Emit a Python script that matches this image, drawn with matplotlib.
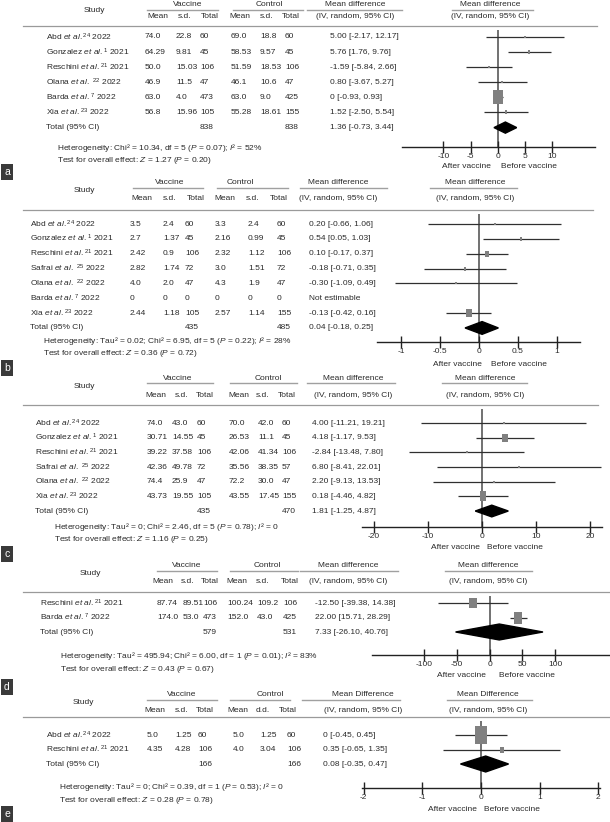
import numpy as np
import matplotlib.pyplot as plt

plt.rcParams['font.family'] = ['Liberation Sans', 'DejaVu Sans']
plt.rcParams['mathtext.fontset'] = 'custom'
plt.rcParams['mathtext.rm'] = 'Liberation Sans'
plt.rcParams['mathtext.it'] = 'Liberation Sans:italic'
plt.rcParams['mathtext.bf'] = 'Liberation Sans:bold'

FS = 6.0
TXT = '#2a2a2a'

# === Panel a ===
names_a = ["Abd", "Gonzalez", "Reschini", "Olana", "Barda", "Xia"]
refs_a = ["24", "1", "21", " 22", "7", "23"]
years_a = ["2022", "2021", "2021", "2022", "2022", "2022"]
vac_mean_a = ["74.0", "64.29", "50.0", "46.9", "63.0", "56.8"]
vac_sd_a = ["22.8", "9.81", "15.03", "11.5", "4.0", "15.96"]
vac_n_a = ["60", "45", "106", "47", "473", "105"]
ctl_mean_a = ["69.0", "58.53", "51.59", "46.1", "63.0", "55.28"]
ctl_sd_a = ["18.8", "9.57", "18.53", "10.6", "9.0", "18.61"]
ctl_n_a = ["60", "45", "106", "47", "425", "155"]
tot_a = ["838", "838"]
md_a = [5.00, 5.76, -1.59, 0.80, 0.0, 1.52]
lo_a = [-2.17, 1.76, -5.84, -3.67, -0.93, -2.50]
hi_a = [12.17, 9.76, 2.66, 5.27, 0.93, 5.54]
wt_a = [2, 4, 3, 3, 84, 4]
pool_a = [1.36, -0.73, 3.44]
het_a = "Heterogeneity: Chi² = 10.34, df = 5 ($\\mathit{P}$ = 0.07); $\\mathit{I}$² = 52%"
test_a = "Test for overall effect: $\\mathit{Z}$ = 1.27 ($\\mathit{P}$ = 0.20)"
ticks_a = [-10, -5, 0, 5, 10]
ticklab_a = ["-10", "-5", "0", "5", "10"]

# === Panel b ===
names_b = ["Abd", "Gonzalez", "Reschini", "Safrai", "Olana", "Barda", "Xia"]
refs_b = ["24", "1", "21", " 25", " 22", "7", "23"]
years_b = ["2022", "2021", "2021", "2022", "2022", "2022", "2022"]
vac_mean_b = ["3.5", "2.7", "2.42", "2.82", "4.0", "0", "2.44"]
vac_sd_b = ["2.4", "1.37", "0.9", "1.74", "2.0", "0", "1.18"]
vac_n_b = ["60", "45", "106", "72", "47", "0", "105"]
ctl_mean_b = ["3.3", "2.16", "2.32", "3.0", "4.3", "0", "2.57"]
ctl_sd_b = ["2.4", "0.99", "1.12", "1.51", "1.9", "0", "1.14"]
ctl_n_b = ["60", "45", "106", "72", "47", "0", "155"]
tot_b = ["435", "485"]
md_b = [0.20, 0.54, 0.10, -0.18, -0.30, np.nan, -0.13]
lo_b = [-0.66, 0.05, -0.17, -0.71, -1.09, np.nan, -0.42]
hi_b = [1.06, 1.03, 0.37, 0.35, 0.49, np.nan, 0.16]
wt_b = [6, 13, 35, 9, 6, 0, 41]
pool_b = [0.04, -0.18, 0.25]
het_b = "Heterogeneity: Tau² = 0.02; Chi² = 6.95, df = 5 ($\\mathit{P}$ = 0.22); $\\mathit{I}$² = 28%"
test_b = "Test for overall effect: $\\mathit{Z}$ = 0.36 ($\\mathit{P}$ = 0.72)"
ticks_b = [-1, -0.5, 0, 0.5, 1]
ticklab_b = ["-1", "-0.5", "0", "0.5", "1"]

# === Panel c ===
names_c = ["Abd", "Gonzalez", "Reschini", "Safrai", "Olana", "Xia"]
refs_c = ["24", "1", "21", " 25", " 22", "23"]
years_c = ["2022", "2021", "2021", "2022", "2022", "2022"]
vac_mean_c = ["74.0", "30.71", "39.22", "42.36", "74.4", "43.73"]
vac_sd_c = ["43.0", "14.55", "37.58", "49.78", "25.9", "19.55"]
vac_n_c = ["60", "45", "106", "72", "47", "105"]
ctl_mean_c = ["70.0", "26.53", "42.06", "35.56", "72.2", "43.55"]
ctl_sd_c = ["42.0", "11.1", "41.34", "38.35", "30.0", "17.45"]
ctl_n_c = ["60", "45", "106", "57", "47", "155"]
tot_c = ["435", "470"]
md_c = [4.00, 4.18, -2.84, 6.80, 2.20, 0.18]
lo_c = [-11.21, -1.17, -13.48, -8.41, -9.13, -4.46]
hi_c = [19.21, 9.53, 7.80, 22.01, 13.53, 4.82]
wt_c = [3, 30, 5, 3, 4, 55]
pool_c = [1.81, -1.25, 4.87]
het_c = "Heterogeneity: Tau² = 0; Chi² = 2.46, df = 5 ($\\mathit{P}$ = 0.78); $\\mathit{I}$² = 0"
test_c = "Test for overall effect: $\\mathit{Z}$ = 1.16 ($\\mathit{P}$ = 0.25)"
ticks_c = [-20, -10, 0, 10, 20]
ticklab_c = ["-20", "-10", "0", "10", "20"]

# === Panel d ===
names_d = ["Reschini", "Barda"]
refs_d = ["21", "7"]
years_d = ["2021", "2022"]
vac_mean_d = ["87.74", "174.0"]
vac_sd_d = ["89.51", "53.0"]
vac_n_d = ["106", "473"]
ctl_mean_d = ["100.24", "152.0"]
ctl_sd_d = ["109.2", "43.0"]
ctl_n_d = ["106", "425"]
tot_d = ["579", "531"]
md_d = [-12.50, 22.00]
lo_d = [-39.38, 15.71]
hi_d = [14.38, 28.29]
wt_d = [45, 55]
pool_d = [7.33, -26.10, 40.76]
het_d = "Heterogeneity: Tau² = 495.94; Chi² = 6.00, df = 1 ($\\mathit{P}$ = 0.01); $\\mathit{I}$² = 83%"
test_d = "Test for overall effect: $\\mathit{Z}$ = 0.43 ($\\mathit{P}$ = 0.67)"
# the published axis labels are twice the plotted scale
ticks_d = [-50, -25, 0, 25, 50]
ticklab_d = ["-100", "-50", "0", "50", "100"]

# === Panel e ===
names_e = ["Abd", "Reschini"]
refs_e = ["24", "21"]
years_e = ["2022", "2021"]
vac_mean_e = ["5.0", "4.35"]
vac_sd_e = ["1.25", "4.28"]
vac_n_e = ["60", "106"]
ctl_mean_e = ["5.0", "4.0"]
ctl_sd_e = ["1.25", "3.04"]
ctl_n_e = ["60", "106"]
tot_e = ["166", "166"]
md_e = [0.0, 0.35]
lo_e = [-0.45, -0.65]
hi_e = [0.45, 1.35]
wt_e = [90, 10]
pool_e = [0.08, -0.35, 0.47]
het_e = "Heterogeneity: Tau² = 0; Chi² = 0.39, df = 1 ($\\mathit{P}$ = 0.53); $\\mathit{I}$² = 0"
test_e = "Test for overall effect: $\\mathit{Z}$ = 0.28 ($\\mathit{P}$ = 0.78)"
ticks_e = [-2, -1, 0, 1, 2]
ticklab_e = ["-2", "-1", "0", "1", "2"]

panels = [
    dict(tag="a", names=names_a, refs=refs_a, years=years_a,
         cells=[vac_mean_a, vac_sd_a, vac_n_a, ctl_mean_a, ctl_sd_a, ctl_n_a], tot=tot_a,
         md=md_a, lo=lo_a, hi=hi_a, wt=wt_a, pool=pool_a, het=het_a, test=test_a,
         ticks=ticks_a, ticklab=ticklab_a, col4="s.d.", mdhead="Mean difference",
         hdr1=5, hdr2=17, rule=26, row0=37, dy=15.1, axis=147, after=166, het_y=148, test_y=160, box=172,
         name_x=46, cols=[145, 176, 200, 231, 260, 285], col_hdr=[158, 185, 210, 240, 267, 291],
         vac=(188, 147, 218), ctl=(269, 233, 303), study_x=94, het_x=57, rule_x=(23, 597),
         md1=(355, 307, 402), md2=(490, 452, 533), md_x=330, ax_x=(402, 595), xlim=(-17.6, 17.8),
         after_x=466, before_x=529, dh=0.37, wk=1.2),
    dict(tag="b", names=names_b, refs=refs_b, years=years_b,
         cells=[vac_mean_b, vac_sd_b, vac_n_b, ctl_mean_b, ctl_sd_b, ctl_n_b], tot=tot_b,
         md=md_b, lo=lo_b, hi=hi_b, wt=wt_b, pool=pool_b, het=het_b, test=test_b,
         ticks=ticks_b, ticklab=ticklab_b, col4="s.d.", mdhead="Mean difference",
         hdr1=183, hdr2=198, rule=210, row0=224, dy=14.85, axis=342, after=364, het_y=341, test_y=353, box=368,
         name_x=30, cols=[130, 163, 185, 215, 248, 277], col_hdr=[142, 170, 196, 225, 253, 279],
         vac=(170, 133, 203), ctl=(240, 217, 288), study_x=84, het_x=43, rule_x=(23, 593),
         md1=(338, 300, 387), md2=(475, 430, 517), md_x=309, ax_x=(377, 580), xlim=(-1.316, 1.303),
         after_x=457, before_x=519, dh=0.43, wk=0.85),
    dict(tag="c", names=names_c, refs=refs_c, years=years_c,
         cells=[vac_mean_c, vac_sd_c, vac_n_c, ctl_mean_c, ctl_sd_c, ctl_n_c], tot=tot_c,
         md=md_c, lo=lo_c, hi=hi_c, wt=wt_c, pool=pool_c, het=het_c, test=test_c,
         ticks=ticks_c, ticklab=ticklab_c, col4="s.d.", mdhead="Mean difference",
         hdr1=378, hdr2=395, rule=405, row0=423, dy=14.67, axis=527, after=547, het_y=527, test_y=539, box=554,
         name_x=35, cols=[147, 172, 197, 229, 258, 282], col_hdr=[156, 182, 205, 239, 263, 287],
         vac=(178, 147, 213), ctl=(268, 230, 297), study_x=84, het_x=54, rule_x=(23, 598),
         md1=(353, 307, 395), md2=(485, 442, 527), md_x=312, ax_x=(362, 602), xlim=(-22.2, 22.2),
         after_x=455, before_x=515, dh=0.4, wk=0.95),
    dict(tag="d", names=names_d, refs=refs_d, years=years_d,
         cells=[vac_mean_d, vac_sd_d, vac_n_d, ctl_mean_d, ctl_sd_d, ctl_n_d], tot=tot_d,
         md=md_d, lo=lo_d, hi=hi_d, wt=wt_d, pool=pool_d, het=het_d, test=test_d,
         ticks=ticks_d, ticklab=ticklab_d, col4="s.d.", mdhead="Mean difference",
         hdr1=565, hdr2=581, rule=592, row0=603, dy=14.5, axis=655, after=675, het_y=656, test_y=669, box=687,
         name_x=40, cols=[157, 183, 203, 227, 257, 283], col_hdr=[163, 188, 210, 237, 263, 290],
         vac=(187, 157, 217), ctl=(267, 230, 298), study_x=90, het_x=60, rule_x=(23, 610),
         md1=(348, 300, 398), md2=(488, 445, 532), md_x=315, ax_x=(372, 610), xlim=(-90, 92),
         after_x=461, before_x=527, dh=0.55, wk=1.2),
    dict(tag="e", names=names_e, refs=refs_e, years=years_e,
         cells=[vac_mean_e, vac_sd_e, vac_n_e, ctl_mean_e, ctl_sd_e, ctl_n_e], tot=tot_e,
         md=md_e, lo=lo_e, hi=hi_e, wt=wt_e, pool=pool_e, het=het_e, test=test_e,
         ticks=ticks_e, ticklab=ticklab_e, col4="d.d.", mdhead="Mean Difference",
         hdr1=694, hdr2=710, rule=717, row0=735, dy=14.5, axis=788, after=809, het_y=787, test_y=800, box=814,
         name_x=46, cols=[147, 175, 198, 233, 260, 287], col_hdr=[155, 182, 205, 238, 263, 288],
         vac=(182, 147, 217), ctl=(270, 230, 290), study_x=83, het_x=59, rule_x=(23, 610),
         md1=(363, 302, 400), md2=(488, 447, 532), md_x=323, ax_x=(362, 600), xlim=(-2.03, 2.03),
         after_x=452, before_x=512, dh=0.55, wk=1.4),
]

W, H = 610, 822
fig = plt.figure(figsize=(W / 100, H / 100), dpi=100)
ax0 = fig.add_axes([0, 0, 1, 1])
ax0.set_xlim(0, W)
ax0.set_ylim(H, 0)
ax0.axis('off')

rect = [(-0.36, -0.5), (0.36, -0.5), (0.36, 0.5), (-0.36, 0.5), (-0.36, -0.5)]


def txt(x, y, s, ha='left', **kw):
    ax0.text(x, y, s, ha=ha, va='center', fontsize=FS, color=TXT, **kw)


def md_label(m, l, h):
    if np.isnan(m):
        return "Not estimable"
    ms = "0" if m == 0 else f"{m:.2f}"
    return f"{ms} [{l:.2f}, {h:.2f}]"


for P in panels:
    # header
    txt(P['study_x'], (P['hdr1'] + P['hdr2']) / 2, "Study", ha='center')
    for lab, (cx, x0, x1) in [("Vaccine", P['vac']), ("Control", P['ctl'])]:
        txt(cx, P['hdr1'], lab, ha='center')
        ax0.plot([x0, x1], [P['hdr1'] + 5.5] * 2, color='#a0a0a0', lw=1.0)
    for lab, cx in zip(["Mean", "s.d.", "Total", "Mean", P['col4'], "Total"], P['col_hdr']):
        txt(cx, P['hdr2'], lab, ha='center')
    for cx, x0, x1 in [P['md1'], P['md2']]:
        txt(cx, P['hdr1'], P['mdhead'], ha='center')
        ax0.plot([x0, x1], [P['hdr1'] + 5.5] * 2, color='#a0a0a0', lw=1.0)
        txt(cx, P['hdr2'], "(IV, random, 95% CI)", ha='center')
    ax0.plot(P['rule_x'], [P['rule']] * 2, color='#9a9a9a', lw=0.9)

    n = len(P['names'])
    for i in range(n):
        y = P['row0'] + i * P['dy']
        gap = "\\ " if P['refs'][i].startswith(" ") else ""
        name = (P['names'][i] + " $\\mathit{et\\ al.}" + gap + "^{\\mathrm{" + P['refs'][i].strip()
                + "}}$ " + P['years'][i])
        txt(P['name_x'], y, name)
        for col, cx in zip(P['cells'], P['cols']):
            txt(cx, y, col[i])
        txt(P['md_x'], y, md_label(P['md'][i], P['lo'][i], P['hi'][i]))
    yt = P['row0'] + n * P['dy']
    txt(P['name_x'], yt, "Total (95% CI)")
    txt(P['cols'][2], yt, P['tot'][0])
    txt(P['cols'][5], yt, P['tot'][1])
    txt(P['md_x'], yt, md_label(*P['pool']))

    txt(P['het_x'], P['het_y'], P['het'])
    txt(P['het_x'], P['test_y'], P['test'])
    txt(P['after_x'], P['after'], "After vaccine", ha='center')
    txt(P['before_x'], P['after'], "Before vaccine", ha='center')
    ax0.text(7, P['box'], P['tag'], ha='center', va='center', fontsize=7.5, color='white',
             bbox=dict(boxstyle='square,pad=0.3', fc='#3a3a3a', ec='none'))

    # forest plot
    x0, x1 = P['ax_x']
    top = P['rule'] + 4
    ax = fig.add_axes([x0 / W, 1 - P['axis'] / H, (x1 - x0) / W, (P['axis'] - top) / H])
    ax.patch.set_alpha(0)
    ax.set_xlim(*P['xlim'])
    ax.set_ylim((P['axis'] - P['row0']) / P['dy'], (top - P['row0']) / P['dy'])
    for s in ['top', 'left', 'right']:
        ax.spines[s].set_visible(False)
    ax.spines['bottom'].set_linewidth(1.0)
    ax.spines['bottom'].set_color('#222222')
    ax.set_yticks([])
    ax.set_xticks(P['ticks'])
    ax.set_xticklabels(P['ticklab'])
    ax.tick_params(axis='x', direction='inout', length=8, width=1.0, color='#222222',
                   labelsize=FS, labelcolor=TXT, pad=0.5)
    ax.axvline(0, color='#4a4a4a', lw=1.1, zorder=1)
    rows = np.arange(n)
    ax.hlines(rows, P['lo'], P['hi'], color='#303030', lw=0.9, zorder=2, clip_on=False)
    for i in range(n):
        if np.isnan(P['md'][i]):
            continue
        side = P['wk'] * np.sqrt(P['wt'][i]) * 1.35
        ax.plot(P['md'][i], i, marker=rect, ms=side * 0.72, color='#808080',
                mec='#808080', mew=0, zorder=3, clip_on=False)
    m, l, h = P['pool']
    d = P['dh']
    ax.fill([l, m, h, m], [n, n - d, n, n + d], color='black', zorder=3, clip_on=False)

fig.savefig("out.png", dpi=100)
